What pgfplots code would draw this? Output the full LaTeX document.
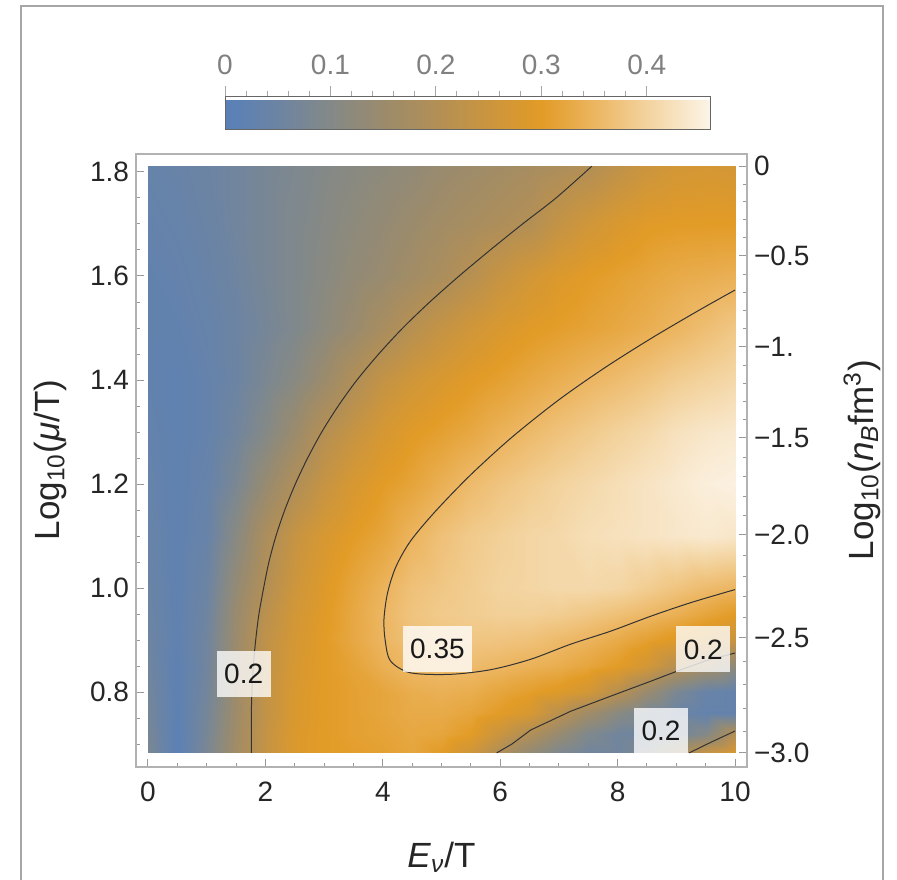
\documentclass[border=0pt]{standalone}
\usepackage{fontspec}
\setmainfont{Liberation Sans}
\usepackage{pgfplots}
\pgfplotsset{compat=1.18}
\usetikzlibrary{calc}

\pgfplotsset{
  colormap={mma}{rgb255(0pt)=(88,128,185) rgb255(5pt)=(108,132,163) rgb255(10pt)=(132,137,135)
    rgb255(15pt)=(155,139,108) rgb255(20pt)=(178,143,86) rgb255(25pt)=(203,149,62)
    rgb255(30pt)=(226,155,38) rgb255(35pt)=(236,181,96) rgb255(40pt)=(243,211,158)
    rgb255(46pt)=(252,244,232)},
}
\tikzset{
  lbl/.style={fill=white, fill opacity=0.78, text opacity=1, inner xsep=3.75pt, inner ysep=0pt,
    minimum height=23pt, font=\fontsize{14}{16}\selectfont, text=black!90},
}

\begin{document}
\begin{tikzpicture}
\path[use as bounding box] (-68pt,-56pt) rectangle (380.5pt,383.5pt);
\draw[black!35, line width=1pt] (-57.5pt,-57pt) -- (-57.5pt,380.5pt) -- (373.5pt,380.5pt) -- (373.5pt,-57pt);

\begin{axis}[
  scale only axis, width=305.5pt, height=306.5pt,
  xmin=-0.204, xmax=10.204, ymin=0.6558, ymax=1.8346,
  colormap name=mma, point meta min=0, point meta max=0.46,
  xtick={0,2,4,6,8,10}, xticklabels={0,2,4,6,8,10},
  ytick={0.8,1.0,1.2,1.4,1.6,1.8}, yticklabels={0.8,1.0,1.2,1.4,1.6,1.8},
  minor xtick={0,0.5,...,10}, minor ytick={0.7,0.75,...,1.8},
  xtick pos=left, ytick pos=left,
  tick align=inside, major tick length=4pt, minor tick length=2pt,
  tick style={black!40, line width=0.5pt},
  axis line style={black!30, line width=0.8pt},
  tick label style={font=\fontsize{14}{16}\selectfont, text=black!85},
  xticklabel shift=4pt,
  colorbar horizontal,
  colorbar style={
    at={($(parent axis.north west)+(44.5pt,21pt)$)}, anchor=south west,
    scale only axis, width=242.5pt, height=16.5pt,
    xtick={0,0.1,0.2,0.3,0.4}, xticklabels={0,0.1,0.2,0.3,0.4},
    minor x tick num=4,
    xtick pos=right, xticklabel pos=right,
    tick align=outside, major tick length=5pt, minor tick length=2.5pt,
    tick style={black!35, line width=0.5pt},
    axis line style={black!60, line width=0.5pt},
    tick label style={font=\fontsize{14}{16}\selectfont, text=black!50},
    xticklabel shift=2pt,
  },
]
\addplot[surf, shader=interp, mesh/cols=21, point meta=explicit] coordinates {
(0,0.683)[0.08] (0.5,0.683)[0.01] (1,0.683)[0.08] (1.5,0.683)[0.165] (2,0.683)[0.235] (2.5,0.683)[0.285] (3,0.683)[0.30] (3.5,0.683)[0.305] (4,0.683)[0.31] (4.5,0.683)[0.32] (5,0.683)[0.30] (5.5,0.683)[0.255] (6,0.683)[0.195] (6.5,0.683)[0.13] (7,0.683)[0.085] (7.5,0.683)[0.06] (8,0.683)[0.06] (8.5,0.683)[0.09] (9,0.683)[0.16] (9.5,0.683)[0.24] (10,0.683)[0.28]
(0,0.72)[0.075] (0.5,0.72)[0.01] (1,0.72)[0.075] (1.5,0.72)[0.16] (2,0.72)[0.235] (2.5,0.72)[0.285] (3,0.72)[0.30] (3.5,0.72)[0.31] (4,0.72)[0.315] (4.5,0.72)[0.325] (5,0.72)[0.32] (5.5,0.72)[0.30] (6,0.72)[0.245] (6.5,0.72)[0.195] (7,0.72)[0.14] (7.5,0.72)[0.09] (8,0.72)[0.06] (8.5,0.72)[0.05] (9,0.72)[0.06] (9.5,0.72)[0.10] (10,0.72)[0.20]
(0,0.76)[0.07] (0.5,0.76)[0.015] (1,0.76)[0.07] (1.5,0.76)[0.155] (2,0.76)[0.23] (2.5,0.76)[0.28] (3,0.76)[0.30] (3.5,0.76)[0.31] (4,0.76)[0.32] (4.5,0.76)[0.33] (5,0.76)[0.33] (5.5,0.76)[0.32] (6,0.76)[0.30] (6.5,0.76)[0.275] (7,0.76)[0.215] (7.5,0.76)[0.16] (8,0.76)[0.11] (8.5,0.76)[0.07] (9,0.76)[0.045] (9.5,0.76)[0.03] (10,0.76)[0.03]
(0,0.80)[0.065] (0.5,0.80)[0.015] (1,0.80)[0.065] (1.5,0.80)[0.155] (2,0.80)[0.23] (2.5,0.80)[0.28] (3,0.80)[0.30] (3.5,0.80)[0.31] (4,0.80)[0.32] (4.5,0.80)[0.335] (5,0.80)[0.34] (5.5,0.80)[0.335] (6,0.80)[0.32] (6.5,0.80)[0.305] (7,0.80)[0.29] (7.5,0.80)[0.265] (8,0.80)[0.21] (8.5,0.80)[0.145] (9,0.80)[0.08] (9.5,0.80)[0.04] (10,0.80)[0.03]
(0,0.85)[0.06] (0.5,0.85)[0.015] (1,0.85)[0.06] (1.5,0.85)[0.15] (2,0.85)[0.225] (2.5,0.85)[0.275] (3,0.85)[0.30] (3.5,0.85)[0.315] (4,0.85)[0.34] (4.5,0.85)[0.355] (5,0.85)[0.36] (5.5,0.85)[0.36] (6,0.85)[0.352] (6.5,0.85)[0.343] (7,0.85)[0.335] (7.5,0.85)[0.32] (8,0.85)[0.30] (8.5,0.85)[0.265] (9,0.85)[0.21] (9.5,0.85)[0.17] (10,0.85)[0.12]
(0,0.90)[0.055] (0.5,0.90)[0.02] (1,0.90)[0.06] (1.5,0.90)[0.15] (2,0.90)[0.225] (2.5,0.90)[0.27] (3,0.90)[0.30] (3.5,0.90)[0.325] (4,0.90)[0.35] (4.5,0.90)[0.37] (5,0.90)[0.375] (5.5,0.90)[0.378] (6,0.90)[0.375] (6.5,0.90)[0.37] (7,0.90)[0.358] (7.5,0.90)[0.347] (8,0.90)[0.33] (8.5,0.90)[0.31] (9,0.90)[0.29] (9.5,0.90)[0.265] (10,0.90)[0.245]
(0,0.95)[0.05] (0.5,0.95)[0.02] (1,0.95)[0.055] (1.5,0.95)[0.145] (2,0.95)[0.215] (2.5,0.95)[0.265] (3,0.95)[0.295] (3.5,0.95)[0.325] (4,0.95)[0.352] (4.5,0.95)[0.375] (5,0.95)[0.385] (5.5,0.95)[0.39] (6,0.95)[0.395] (6.5,0.95)[0.395] (7,0.95)[0.39] (7.5,0.95)[0.38] (8,0.95)[0.368] (8.5,0.95)[0.355] (9,0.95)[0.34] (9.5,0.95)[0.32] (10,0.95)[0.30]
(0,1.00)[0.045] (0.5,1.00)[0.02] (1,1.00)[0.05] (1.5,1.00)[0.135] (2,1.00)[0.202] (2.5,1.00)[0.255] (3,1.00)[0.29] (3.5,1.00)[0.32] (4,1.00)[0.345] (4.5,1.00)[0.37] (5,1.00)[0.38] (5.5,1.00)[0.39] (6,1.00)[0.40] (6.5,1.00)[0.405] (7,1.00)[0.41] (7.5,1.00)[0.41] (8,1.00)[0.405] (8.5,1.00)[0.39] (9,1.00)[0.375] (9.5,1.00)[0.36] (10,1.00)[0.35]
(0,1.10)[0.04] (0.5,1.10)[0.02] (1,1.10)[0.04] (1.5,1.10)[0.11] (2,1.10)[0.185] (2.5,1.10)[0.24] (3,1.10)[0.275] (3.5,1.10)[0.30] (4,1.10)[0.32] (4.5,1.10)[0.348] (5,1.10)[0.37] (5.5,1.10)[0.385] (6,1.10)[0.395] (6.5,1.10)[0.405] (7,1.10)[0.41] (7.5,1.10)[0.42] (8,1.10)[0.425] (8.5,1.10)[0.43] (9,1.10)[0.435] (9.5,1.10)[0.44] (10,1.10)[0.435]
(0,1.20)[0.035] (0.5,1.20)[0.02] (1,1.20)[0.035] (1.5,1.20)[0.08] (2,1.20)[0.14] (2.5,1.20)[0.195] (3,1.20)[0.24] (3.5,1.20)[0.275] (4,1.20)[0.30] (4.5,1.20)[0.318] (5,1.20)[0.34] (5.5,1.20)[0.36] (6,1.20)[0.375] (6.5,1.20)[0.388] (7,1.20)[0.40] (7.5,1.20)[0.41] (8,1.20)[0.42] (8.5,1.20)[0.43] (9,1.20)[0.44] (9.5,1.20)[0.45] (10,1.20)[0.455]
(0,1.30)[0.03] (0.5,1.30)[0.02] (1,1.30)[0.03] (1.5,1.30)[0.06] (2,1.30)[0.10] (2.5,1.30)[0.15] (3,1.30)[0.205] (3.5,1.30)[0.24] (4,1.30)[0.272] (4.5,1.30)[0.295] (5,1.30)[0.31] (5.5,1.30)[0.325] (6,1.30)[0.343] (6.5,1.30)[0.358] (7,1.30)[0.372] (7.5,1.30)[0.385] (8,1.30)[0.398] (8.5,1.30)[0.41] (9,1.30)[0.425] (9.5,1.30)[0.435] (10,1.30)[0.44]
(0,1.40)[0.025] (0.5,1.40)[0.02] (1,1.40)[0.03] (1.5,1.40)[0.05] (2,1.40)[0.08] (2.5,1.40)[0.11] (3,1.40)[0.15] (3.5,1.40)[0.195] (4,1.40)[0.235] (4.5,1.40)[0.26] (5,1.40)[0.28] (5.5,1.40)[0.297] (6,1.40)[0.31] (6.5,1.40)[0.325] (7,1.40)[0.338] (7.5,1.40)[0.351] (8,1.40)[0.362] (8.5,1.40)[0.375] (9,1.40)[0.39] (9.5,1.40)[0.40] (10,1.40)[0.41]
(0,1.50)[0.025] (0.5,1.50)[0.025] (1,1.50)[0.035] (1.5,1.50)[0.05] (2,1.50)[0.07] (2.5,1.50)[0.09] (3,1.50)[0.118] (3.5,1.50)[0.145] (4,1.50)[0.178] (4.5,1.50)[0.21] (5,1.50)[0.237] (5.5,1.50)[0.26] (6,1.50)[0.28] (6.5,1.50)[0.295] (7,1.50)[0.305] (7.5,1.50)[0.315] (8,1.50)[0.325] (8.5,1.50)[0.337] (9,1.50)[0.35] (9.5,1.50)[0.365] (10,1.50)[0.38]
(0,1.60)[0.025] (0.5,1.60)[0.03] (1,1.60)[0.04] (1.5,1.60)[0.055] (2,1.60)[0.075] (2.5,1.60)[0.09] (3,1.60)[0.11] (3.5,1.60)[0.13] (4,1.60)[0.145] (4.5,1.60)[0.165] (5,1.60)[0.185] (5.5,1.60)[0.21] (6,1.60)[0.24] (6.5,1.60)[0.265] (7,1.60)[0.285] (7.5,1.60)[0.30] (8,1.60)[0.31] (8.5,1.60)[0.32] (9,1.60)[0.33] (9.5,1.60)[0.335] (10,1.60)[0.34]
(0,1.70)[0.03] (0.5,1.70)[0.035] (1,1.70)[0.045] (1.5,1.70)[0.06] (2,1.70)[0.075] (2.5,1.70)[0.09] (3,1.70)[0.105] (3.5,1.70)[0.12] (4,1.70)[0.135] (4.5,1.70)[0.15] (5,1.70)[0.165] (5.5,1.70)[0.178] (6,1.70)[0.19] (6.5,1.70)[0.203] (7,1.70)[0.235] (7.5,1.70)[0.26] (8,1.70)[0.28] (8.5,1.70)[0.295] (9,1.70)[0.30] (9.5,1.70)[0.30] (10,1.70)[0.30]
(0,1.811)[0.035] (0.5,1.811)[0.04] (1,1.811)[0.05] (1.5,1.811)[0.06] (2,1.811)[0.075] (2.5,1.811)[0.085] (3,1.811)[0.10] (3.5,1.811)[0.11] (4,1.811)[0.12] (4.5,1.811)[0.13] (5,1.811)[0.145] (5.5,1.811)[0.155] (6,1.811)[0.165] (6.5,1.811)[0.175] (7,1.811)[0.188] (7.5,1.811)[0.199] (8,1.811)[0.225] (8.5,1.811)[0.25] (9,1.811)[0.265] (9.5,1.811)[0.27] (10,1.811)[0.265]
};
% contour 0.2 (left)
\addplot[black!80, line width=0.5pt, smooth] coordinates {(1.76,0.683) (1.76,0.75) (1.77,0.80) (1.795,0.85) (1.835,0.90) (1.89,0.95) (1.97,1.0) (2.06,1.05) (2.18,1.10) (2.33,1.15) (2.51,1.20) (2.72,1.25) (2.96,1.30) (3.24,1.35) (3.56,1.40) (3.93,1.45) (4.34,1.50) (4.80,1.55) (5.30,1.60) (5.83,1.65) (6.38,1.70) (6.95,1.75) (7.56,1.811)};
% contour 0.35
\addplot[black!80, line width=0.5pt, smooth] coordinates {(10,1.573) (9.4,1.535) (8.6,1.482) (7.8,1.425) (7.0,1.362) (6.2,1.29) (5.5,1.218) (4.9,1.148) (4.47,1.09) (4.22,1.04) (4.08,0.99) (4.02,0.94) (4.04,0.9) (4.13,0.86) (4.47,0.837) (5.15,0.834) (5.84,0.843) (6.52,0.863) (7.2,0.892) (7.88,0.917) (8.57,0.946) (9.25,0.972) (10,0.997)};
% contour 0.2 (lower right)
\addplot[black!80, line width=0.5pt] coordinates {(5.94,0.683) (6.2,0.70) (6.52,0.727) (7.2,0.763) (7.88,0.792) (8.57,0.821) (9.01,0.84) (9.5,0.86) (10,0.875)};
\addplot[black!80, line width=0.5pt] coordinates {(9.22,0.683) (9.6,0.704) (10,0.725)};
\node[lbl] at (axis cs:1.63,0.835) {0.2};
\node[lbl] at (axis cs:4.93,0.883) {0.35};
\node[lbl] at (axis cs:9.46,0.882) {0.2};
\node[lbl] at (axis cs:8.74,0.725) {0.2};
\end{axis}

\begin{axis}[
  scale only axis, width=305.5pt, height=306.5pt,
  xmin=-0.204, xmax=10.204, ymin=0.6558, ymax=1.8346,
  axis x line=none, axis y line*=right,
  ytick={0.683,0.904,1.102,1.2885,1.4635,1.6385,1.8115},
  yticklabels={−3.0,−2.5,−2.0,−1.5,−1.,−0.5,0},
  minor ytick={0.724,0.769,0.814,0.859,0.9436,0.9832,1.0228,1.0624,1.1393,1.1766,1.2139,1.2512,1.3235,1.3585,1.3935,1.4285,1.4985,1.5335,1.5685,1.6035,1.6731,1.7077,1.7423,1.7769},
  tick align=inside, major tick length=4pt, minor tick length=2pt,
  tick style={black!40, line width=0.5pt},
  axis line style={black!30, line width=0.8pt},
  tick label style={font=\fontsize{14}{16}\selectfont, text=black!85},
]
\end{axis}

\node[rotate=90, font=\fontsize{17.5}{20}\selectfont, text=black!85] at (-43pt,153.5pt) {Log\textsubscript{10}(\textit{μ}/T)};
\node[rotate=90, font=\fontsize{17.5}{20}\selectfont, text=black!85] at (363pt,153.5pt) {Log\textsubscript{10}(\textit{n}\textsubscript{\textit{B}}fm\textsuperscript{3})};
\node[font=\fontsize{17.5}{20}\selectfont, text=black!85] at (152.75pt,-45pt) {\textit{E}\textsubscript{\textit{ν}}/T};
\end{tikzpicture}
\end{document}
